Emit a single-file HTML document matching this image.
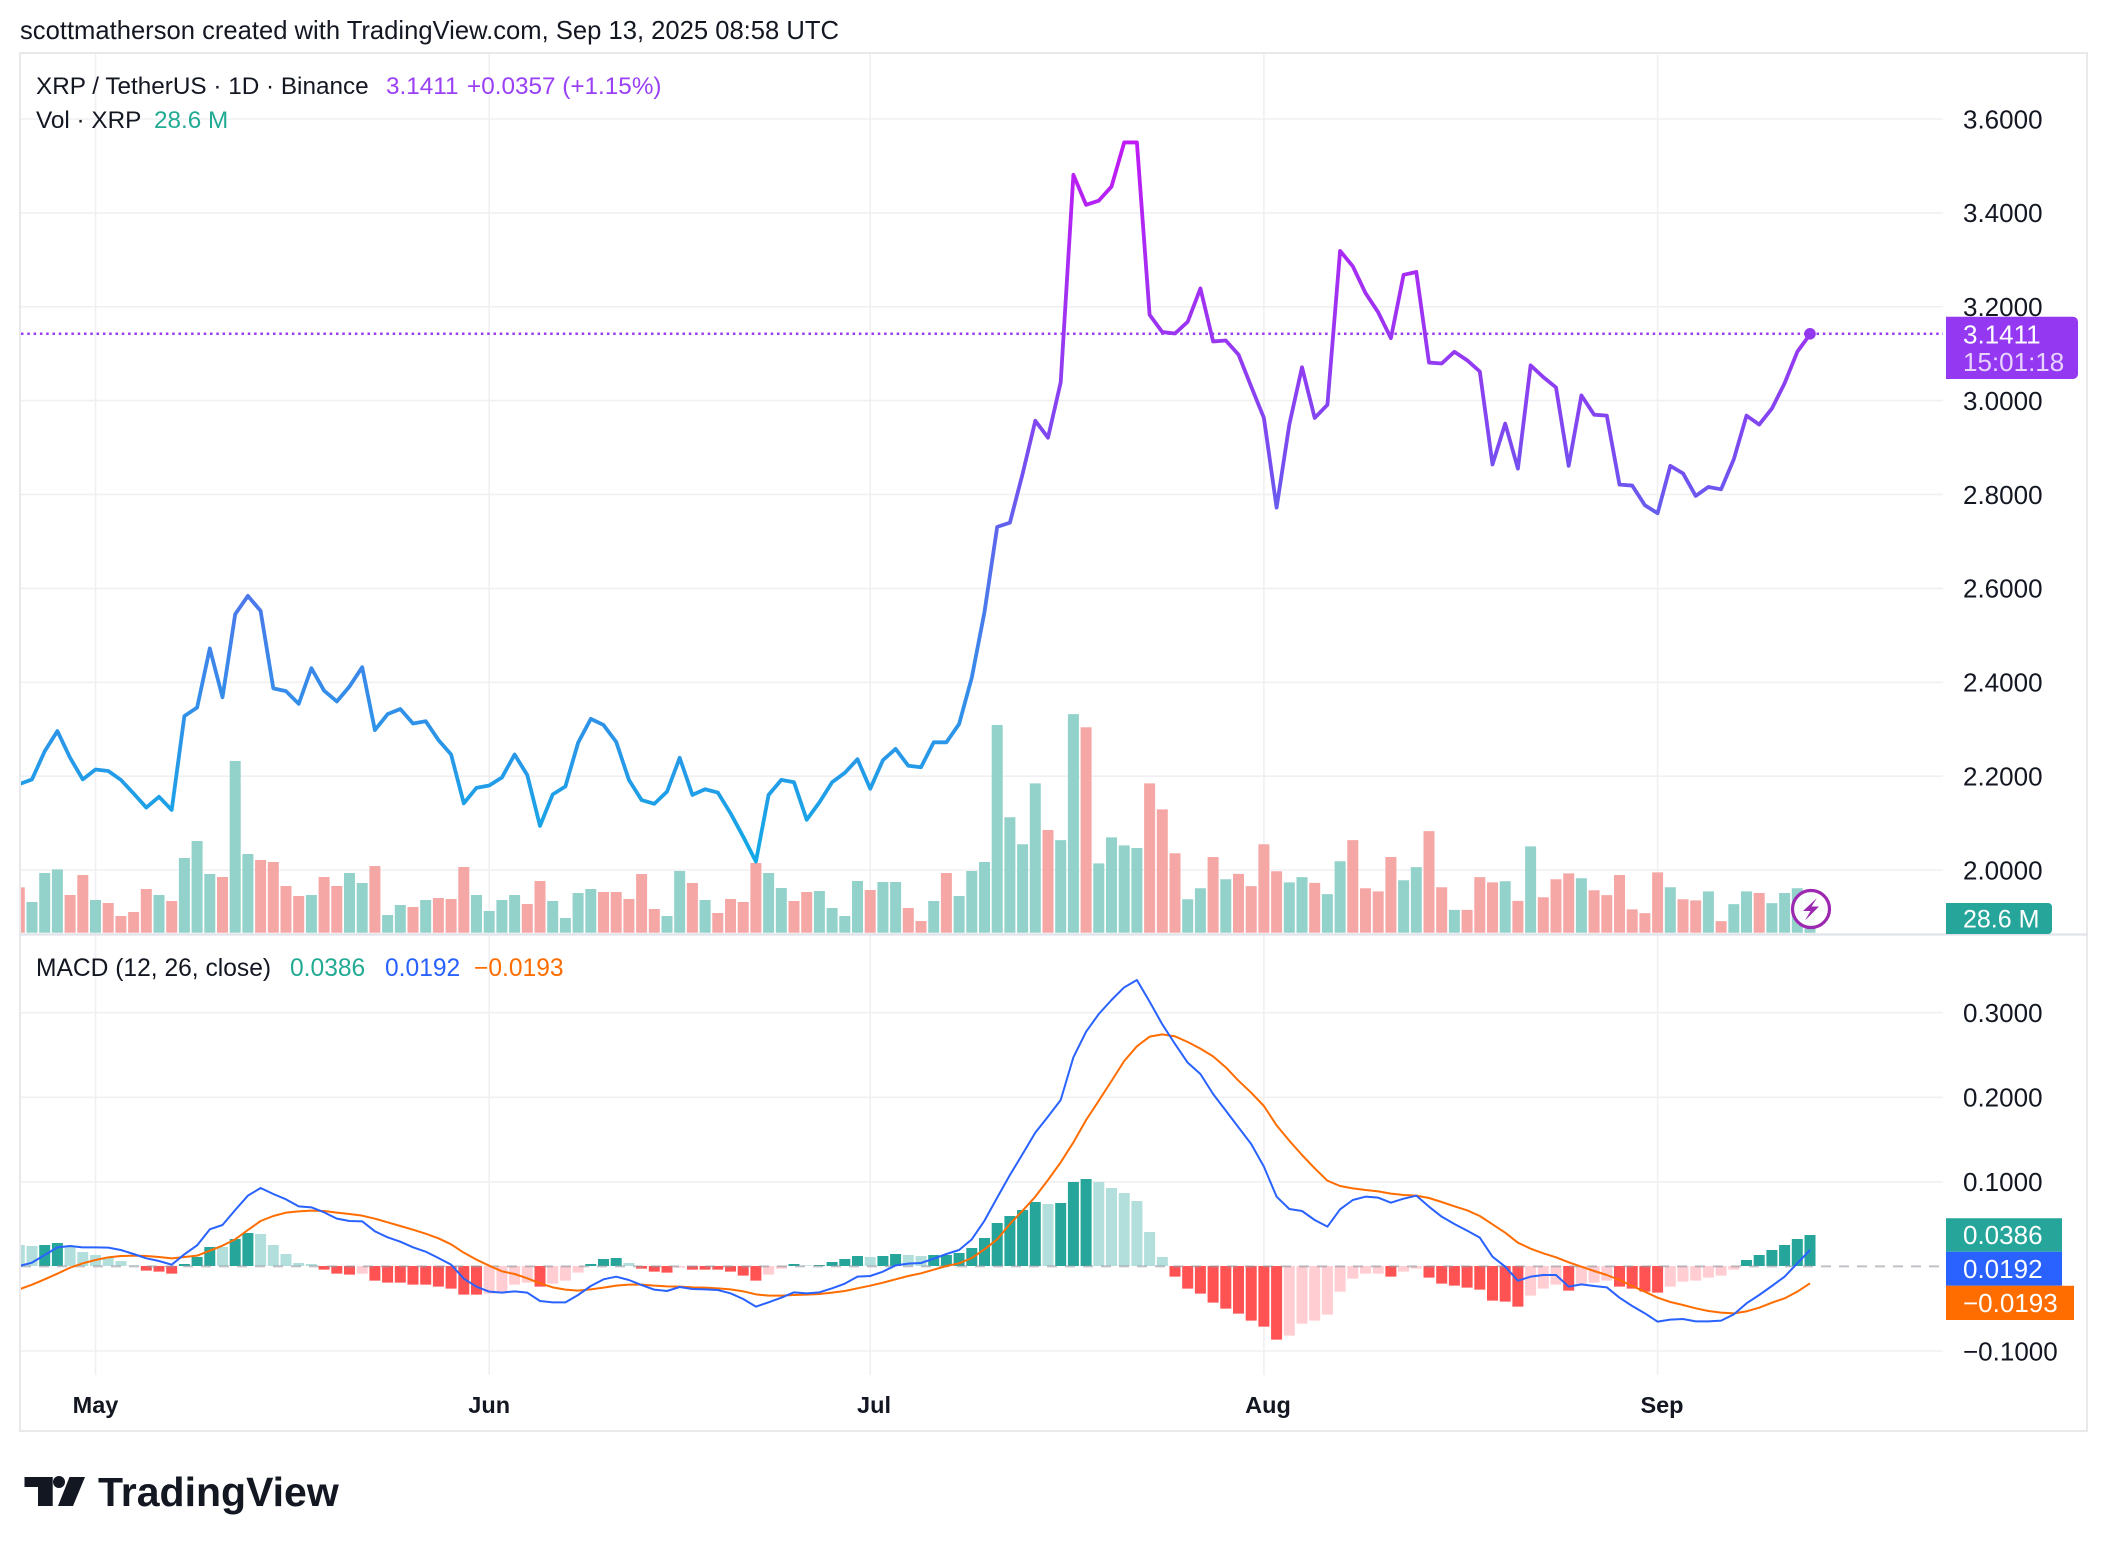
<!DOCTYPE html>
<html>
<head>
<meta charset="utf-8">
<style>
  html,body{margin:0;padding:0;background:#ffffff;}
  svg{display:block;}
  text{font-family:"Liberation Sans",Arial,sans-serif;}
</style>
</head>
<body>
<svg width="2108" height="1552" viewBox="0 0 2108 1552" xmlns="http://www.w3.org/2000/svg">
  <defs>
    <clipPath id="plot"><rect x="21" y="54" width="1922" height="1321"/></clipPath>
    <linearGradient id="pg" gradientUnits="userSpaceOnUse" x1="0" y1="3.55" x2="0" y2="2.0">
      <stop offset="0" stop-color="#c01af5"/>
      <stop offset="0.265" stop-color="#9a36f2"/>
      <stop offset="0.452" stop-color="#7450f0"/>
      <stop offset="0.581" stop-color="#5470ec"/>
      <stop offset="0.71" stop-color="#3d86ea"/>
      <stop offset="0.839" stop-color="#2898e8"/>
      <stop offset="1" stop-color="#10abe6"/>
    </linearGradient>
  </defs>

  <rect x="0" y="0" width="2108" height="1552" fill="#ffffff"/>

  <!-- header -->
  <text x="20" y="39" font-size="25.6" fill="#131722">scottmatherson created with TradingView.com, Sep 13, 2025 08:58 UTC</text>

  <!-- frame -->
  <rect x="20" y="53" width="2067" height="1378" fill="none" stroke="#e9e9ec" stroke-width="2"/>

  <!-- gridlines -->
  <g stroke="#f0f0f3" stroke-width="1.6">
    <line x1="95.5" y1="54" x2="95.5" y2="1375"/>
    <line x1="489.2" y1="54" x2="489.2" y2="1375"/>
    <line x1="870.2" y1="54" x2="870.2" y2="1375"/>
    <line x1="1263.9" y1="54" x2="1263.9" y2="1375"/>
    <line x1="1657.6" y1="54" x2="1657.6" y2="1375"/>
    <line x1="21" y1="119" x2="1943" y2="119"/>
    <line x1="21" y1="212.9" x2="1943" y2="212.9"/>
    <line x1="21" y1="306.8" x2="1943" y2="306.8"/>
    <line x1="21" y1="400.6" x2="1943" y2="400.6"/>
    <line x1="21" y1="494.5" x2="1943" y2="494.5"/>
    <line x1="21" y1="588.4" x2="1943" y2="588.4"/>
    <line x1="21" y1="682.3" x2="1943" y2="682.3"/>
    <line x1="21" y1="776.2" x2="1943" y2="776.2"/>
    <line x1="21" y1="870" x2="1943" y2="870"/>
    <line x1="21" y1="1012.7" x2="1943" y2="1012.7"/>
    <line x1="21" y1="1097.3" x2="1943" y2="1097.3"/>
    <line x1="21" y1="1181.8" x2="1943" y2="1181.8"/>
    <line x1="21" y1="1351" x2="1943" y2="1351"/>
  </g>

  <g clip-path="url(#plot)">
    <!-- volume -->
    <g transform="translate(13.8,932.7) scale(12.7,1)">
      <path fill="#93d2cb" d="M1 0v-30.7h.866V0z M2 0v-59.7h.866V0z M3 0v-63.3h.866V0z M6 0v-32.7h.866V0z M11 0v-37.7h.866V0z M13 0v-74.7h.866V0z M14 0v-91.7h.866V0z M15 0v-58.7h.866V0z M17 0v-171.7h.866V0z M18 0v-78.7h.866V0z M23 0v-37.7h.866V0z M26 0v-59.7h.866V0z M27 0v-49.7h.866V0z M29 0v-17.7h.866V0z M30 0v-27.7h.866V0z M32 0v-32.7h.866V0z M36 0v-37.7h.866V0z M37 0v-21.7h.866V0z M38 0v-32.7h.866V0z M39 0v-37.7h.866V0z M42 0v-31.7h.866V0z M43 0v-14.7h.866V0z M44 0v-39.7h.866V0z M45 0v-43.7h.866V0z M51 0v-16.7h.866V0z M52 0v-61.7h.866V0z M54 0v-32.7h.866V0z M59 0v-59.7h.866V0z M60 0v-44.7h.866V0z M63 0v-41.7h.866V0z M64 0v-24.7h.866V0z M65 0v-16.7h.866V0z M66 0v-51.7h.866V0z M68 0v-50.7h.866V0z M69 0v-50.7h.866V0z M72 0v-31.7h.866V0z M74 0v-36.7h.866V0z M75 0v-61.7h.866V0z M76 0v-70.7h.866V0z M77 0v-207.7h.866V0z M78 0v-115.4h.866V0z M79 0v-88.4h.866V0z M80 0v-149.3h.866V0z M82 0v-92.6h.866V0z M83 0v-218.6h.866V0z M85 0v-69.3h.866V0z M86 0v-95.3h.866V0z M87 0v-87.3h.866V0z M88 0v-84.7h.866V0z M92 0v-33.4h.866V0z M93 0v-44.5h.866V0z M95 0v-53.5h.866V0z M100 0v-50.3h.866V0z M101 0v-55.6h.866V0z M103 0v-38.6h.866V0z M104 0v-71.5h.866V0z M109 0v-52.4h.866V0z M110 0v-65.6h.866V0z M113 0v-22.8h.866V0z M117 0v-51.4h.866V0z M119 0v-86.3h.866V0z M123 0v-54.5h.866V0z M130 0v-45.5h.866V0z M133 0v-41.3h.866V0z M135 0v-28.6h.866V0z M136 0v-41.3h.866V0z M138 0v-29.6h.866V0z M139 0v-39.7h.866V0z M140 0v-44.5h.866V0z M141 0v-40h.866V0z"/>
      <path fill="#f5a7a5" d="M0 0v-45.3h.866V0z M4 0v-37.7h.866V0z M5 0v-57.7h.866V0z M7 0v-29.7h.866V0z M8 0v-16.7h.866V0z M9 0v-20.7h.866V0z M10 0v-43.7h.866V0z M12 0v-31.7h.866V0z M16 0v-55.7h.866V0z M19 0v-72.7h.866V0z M20 0v-70.7h.866V0z M21 0v-46.7h.866V0z M22 0v-36.7h.866V0z M24 0v-55.7h.866V0z M25 0v-46.7h.866V0z M28 0v-66.7h.866V0z M31 0v-25.7h.866V0z M33 0v-34.7h.866V0z M34 0v-33.7h.866V0z M35 0v-65.7h.866V0z M40 0v-28.7h.866V0z M41 0v-51.7h.866V0z M46 0v-40.7h.866V0z M47 0v-40.7h.866V0z M48 0v-33.7h.866V0z M49 0v-58.7h.866V0z M50 0v-23.7h.866V0z M53 0v-49.7h.866V0z M55 0v-19.7h.866V0z M56 0v-33.7h.866V0z M57 0v-30.7h.866V0z M58 0v-69.7h.866V0z M61 0v-31.7h.866V0z M62 0v-40.7h.866V0z M67 0v-42.7h.866V0z M70 0v-24.7h.866V0z M71 0v-11.7h.866V0z M73 0v-59.7h.866V0z M81 0v-102.7h.866V0z M84 0v-205.4h.866V0z M89 0v-149.3h.866V0z M90 0v-123.3h.866V0z M91 0v-79.4h.866V0z M94 0v-75.7h.866V0z M96 0v-58.8h.866V0z M97 0v-46.6h.866V0z M98 0v-88.4h.866V0z M99 0v-61.4h.866V0z M102 0v-49.8h.866V0z M105 0v-92.6h.866V0z M106 0v-44.5h.866V0z M107 0v-41.3h.866V0z M108 0v-75.7h.866V0z M111 0v-101.6h.866V0z M112 0v-45.5h.866V0z M114 0v-22.8h.866V0z M115 0v-55.6h.866V0z M116 0v-50.3h.866V0z M118 0v-31.8h.866V0z M120 0v-35.5h.866V0z M121 0v-53.5h.866V0z M122 0v-59.3h.866V0z M124 0v-42.4h.866V0z M125 0v-37.6h.866V0z M126 0v-57.7h.866V0z M127 0v-23.3h.866V0z M128 0v-19.6h.866V0z M129 0v-60.3h.866V0z M131 0v-33.4h.866V0z M132 0v-32.3h.866V0z M134 0v-11.6h.866V0z M137 0v-39.7h.866V0z"/>
    </g>

    <!-- last price dotted line -->
    <line x1="21" y1="333.8" x2="1943" y2="333.8" stroke="#9a3cf2" stroke-width="2.5" stroke-dasharray="2.5 3.8"/>

    <!-- price line -->
    <g transform="translate(19.3,1808.8) scale(12.7,-469.4)">
      <polyline fill="none" stroke="url(#pg)" stroke-width="3.8" stroke-linejoin="round" stroke-linecap="round" vector-effect="non-scaling-stroke"
        points="0,2.183 1,2.193 2,2.253 3,2.296 4,2.239 5,2.193 6,2.214 7,2.211 8,2.192 9,2.163 10,2.133 11,2.156 12,2.128 13,2.328 14,2.346 15,2.472 16,2.368 17,2.545 18,2.584 19,2.552 20,2.387 21,2.381 22,2.354 23,2.430 24,2.382 25,2.359 26,2.391 27,2.432 28,2.298 29,2.332 30,2.343 31,2.312 32,2.317 33,2.277 34,2.246 35,2.142 36,2.175 37,2.180 38,2.197 39,2.246 40,2.202 41,2.094 42,2.161 43,2.178 44,2.271 45,2.322 46,2.309 47,2.273 48,2.192 49,2.149 50,2.141 51,2.167 52,2.239 53,2.160 54,2.172 55,2.165 56,2.121 57,2.071 58,2.018 59,2.160 60,2.192 61,2.187 62,2.107 63,2.144 64,2.187 65,2.207 66,2.236 67,2.173 68,2.234 69,2.258 70,2.222 71,2.219 72,2.272 73,2.272 74,2.311 75,2.41 76,2.55 77,2.731 78,2.740 79,2.844 80,2.957 81,2.921 82,3.039 83,3.481 84,3.417 85,3.426 86,3.456 87,3.550 88,3.550 89,3.183 90,3.146 91,3.143 92,3.168 93,3.239 94,3.126 95,3.128 96,3.098 97,3.030 98,2.963 99,2.772 100,2.949 101,3.071 102,2.963 103,2.991 104,3.319 105,3.286 106,3.229 107,3.188 108,3.133 109,3.268 110,3.274 111,3.081 112,3.079 113,3.104 114,3.086 115,3.062 116,2.864 117,2.951 118,2.855 119,3.075 120,3.050 121,3.028 122,2.861 123,3.011 124,2.970 125,2.968 126,2.821 127,2.819 128,2.777 129,2.760 130,2.861 131,2.845 132,2.797 133,2.816 134,2.811 135,2.875 136,2.968 137,2.949 138,2.983 139,3.037 140,3.104 141,3.1411"/>
    </g>
    <circle cx="1810" cy="333.8" r="5.8" fill="#9238ee"/>

    <!-- MACD histogram -->
    <g transform="translate(13.8,970) scale(12.7,0.333333)">
      <path fill="#26a69a" d="M2 888V825h.866V888z M3 888V819h.866V888z M13 888V882h.866V888z M14 888V861h.866V888z M15 888V831h.866V888z M17 888V807h.866V888z M18 888V789h.866V888z M45 888V882h.866V888z M46 888V867h.866V888z M47 888V864h.866V888z M61 888V882h.866V888z M63 888V885h.866V888z M64 888V876h.866V888z M65 888V867h.866V888z M66 888V858h.866V888z M68 888V858h.866V888z M69 888V852h.866V888z M72 888V855h.866V888z M73 888V855h.866V888z M74 888V849h.866V888z M75 888V834h.866V888z M76 888V804h.866V888z M77 888V759h.866V888z M78 888V738h.866V888z M79 888V720h.866V888z M80 888V696h.866V888z M82 888V699h.866V888z M83 888V636h.866V888z M84 888V627h.866V888z M136 888V870h.866V888z M137 888V855h.866V888z M138 888V840h.866V888z M139 888V825h.866V888z M140 888V807h.866V888z M141 888V795h.866V888z"/>
      <path fill="#b2dfdb" d="M0 888V825h.866V888z M1 888V828h.866V888z M4 888V828h.866V888z M5 888V846h.866V888z M6 888V855h.866V888z M7 888V864h.866V888z M8 888V873h.866V888z M9 888V886h.866V888z M16 888V831h.866V888z M19 888V792h.866V888z M20 888V825h.866V888z M21 888V852h.866V888z M22 888V879h.866V888z M23 888V882h.866V888z M48 888V879h.866V888z M62 888V886h.866V888z M67 888V861h.866V888z M70 888V855h.866V888z M71 888V858h.866V888z M81 888V702h.866V888z M85 888V636h.866V888z M86 888V654h.866V888z M87 888V669h.866V888z M88 888V693h.866V888z M89 888V786h.866V888z M90 888V861h.866V888z"/>
      <path fill="#ff5252" d="M10 888V902h.866V888z M11 888V905h.866V888z M12 888V911h.866V888z M24 888V899h.866V888z M25 888V911h.866V888z M26 888V914h.866V888z M28 888V932h.866V888z M29 888V938h.866V888z M30 888V938h.866V888z M31 888V944h.866V888z M32 888V944h.866V888z M33 888V950h.866V888z M34 888V956h.866V888z M35 888V974h.866V888z M36 888V974h.866V888z M41 888V950h.866V888z M49 888V896h.866V888z M50 888V905h.866V888z M51 888V908h.866V888z M53 888V899h.866V888z M54 888V899h.866V888z M55 888V899h.866V888z M56 888V905h.866V888z M57 888V917h.866V888z M58 888V932h.866V888z M91 888V920h.866V888z M92 888V956h.866V888z M93 888V971h.866V888z M94 888V998h.866V888z M95 888V1016h.866V888z M96 888V1031h.866V888z M97 888V1052h.866V888z M98 888V1070h.866V888z M99 888V1109h.866V888z M108 888V920h.866V888z M111 888V923h.866V888z M112 888V941h.866V888z M113 888V947h.866V888z M114 888V953h.866V888z M115 888V959h.866V888z M116 888V992h.866V888z M117 888V995h.866V888z M118 888V1010h.866V888z M122 888V962h.866V888z M126 888V950h.866V888z M127 888V956h.866V888z M128 888V965h.866V888z M129 888V968h.866V888z"/>
      <path fill="#ffcdd2" d="M27 888V911h.866V888z M37 888V971h.866V888z M38 888V968h.866V888z M39 888V944h.866V888z M40 888V938h.866V888z M42 888V941h.866V888z M43 888V932h.866V888z M44 888V908h.866V888z M52 888V893h.866V888z M59 888V914h.866V888z M60 888V896h.866V888z M100 888V1097h.866V888z M101 888V1061h.866V888z M102 888V1052h.866V888z M103 888V1034h.866V888z M104 888V965h.866V888z M105 888V926h.866V888z M106 888V911h.866V888z M107 888V911h.866V888z M109 888V905h.866V888z M110 888V896h.866V888z M119 888V977h.866V888z M120 888V956h.866V888z M121 888V944h.866V888z M123 888V941h.866V888z M124 888V938h.866V888z M125 888V932h.866V888z M130 888V950h.866V888z M131 888V935h.866V888z M132 888V932h.866V888z M133 888V923h.866V888z M134 888V917h.866V888z M135 888V899h.866V888z"/>
    </g>

    <!-- zero line -->
    <line x1="21" y1="1266.4" x2="1943" y2="1266.4" stroke="#9598a1" stroke-opacity="0.6" stroke-width="2" stroke-dasharray="10 8"/>

    <!-- MACD & signal lines -->
    <g transform="translate(19.3,970) scale(12.7,0.333333)">
      <polyline fill="none" stroke="#ff6d00" stroke-width="2" stroke-linejoin="round" vector-effect="non-scaling-stroke"
        points="0,958 1,944 2,928 3,911 4,893 5,880 6,870 7,862 8,858 9,857 10,858 11,861 12,865 13,861 14,857 15,842 16,827 17,808 18,780 19,753 20,738 21,728 22,724 23,722 24,723 25,728 26,732 27,737 28,746 29,757 30,768 31,779 32,791 33,805 34,823 35,848 36,869 37,887 38,904 39,912 40,925 41,940 42,952 43,959 44,962 45,958 46,953 47,947 48,944 49,944 50,947 51,949 52,950 53,952 54,953 55,955 56,958 57,964 58,973 59,977 60,977 61,975 62,974 63,972 64,968 65,963 66,955 67,947 68,938 69,928 70,918 71,910 72,899 73,888 74,880 75,864 76,838 77,808 78,762 79,722 80,680 81,630 82,577 83,517 84,450 85,392 86,333 87,273 88,229 89,200 90,193 91,199 92,216 93,236 94,259 95,292 96,332 97,368 98,408 99,466 100,512 101,555 102,595 103,632 104,648 105,655 106,660 107,664 108,671 109,675 110,677 111,684 112,696 113,709 114,721 115,738 116,763 117,788 118,818 119,836 120,850 121,862 122,877 123,890 124,903 125,915 126,930 127,948 128,965 129,983 130,996 131,1005 132,1015 133,1023 134,1028 135,1030 136,1024 137,1013 138,998 139,985 140,965 141,940"/>
      <polyline fill="none" stroke="#2962ff" stroke-width="2" stroke-linejoin="round" vector-effect="non-scaling-stroke"
        points="0,888 1,878 2,855 3,832 4,828 5,832 6,832 7,833 8,840 9,852 10,865 11,873 12,884 13,853 14,826 15,778 16,765 17,720 18,677 19,654 20,672 21,688 22,709 23,712 24,727 25,746 26,753 27,754 28,784 29,802 30,815 31,832 32,845 33,864 34,884 35,926 36,950 37,965 38,968 39,964 40,968 41,993 42,997 43,997 44,975 45,948 46,928 47,920 48,930 49,945 50,959 51,963 52,951 53,957 54,958 55,960 56,970 57,987 58,1010 59,997 60,983 61,967 62,970 63,967 64,955 65,941 66,920 67,918 68,905 69,886 70,881 71,879 72,866 73,852 74,840 75,808 76,752 77,683 78,615 79,552 80,488 81,440 82,390 83,262 84,185 85,132 86,90 87,52 88,30 89,95 90,163 91,222 92,278 93,312 94,372 95,422 96,472 97,522 98,590 99,680 100,717 101,723 102,750 103,770 104,718 105,690 106,680 107,683 108,698 109,686 110,677 111,710 112,740 113,762 114,782 115,803 116,860 117,890 118,932 119,920 120,915 121,915 122,950 123,943 124,948 125,952 126,983 127,1008 128,1030 129,1055 130,1049 131,1047 132,1054 133,1054 134,1052 135,1033 136,1000 137,975 138,948 139,920 140,880 141,840"/>
    </g>
  </g>

  <!-- pane separator -->
  <line x1="20" y1="934.5" x2="2087" y2="934.5" stroke="#e0e3eb" stroke-width="2.2"/>

  <!-- lightning icon -->
  <circle cx="1811" cy="909" r="18.5" fill="#ffffff" fill-opacity="0.92" stroke="#9c27b0" stroke-width="3.2"/>
  <polygon points="1817,898 1803,911 1810.5,911 1805,920.5 1819,906.5 1811.5,906.5" fill="#9c27b0"/>

  <!-- legends -->
  <text y="94" font-size="24.3" fill="#131722"><tspan x="36">XRP / TetherUS · 1D · Binance</tspan><tspan x="386" fill="#9a40f5">3.1411</tspan><tspan x="467" fill="#9a40f5">+0.0357 (+1.15%)</tspan></text>
  <text y="128" font-size="24.3" fill="#131722"><tspan x="36">Vol · XRP</tspan><tspan x="154" fill="#22ab94">28.6 M</tspan></text>
  <text y="976" font-size="24.6" fill="#131722"><tspan x="36">MACD (12, 26, close)</tspan><tspan x="290" fill="#22ab94">0.0386</tspan><tspan x="385" fill="#2962ff">0.0192</tspan><tspan x="474" fill="#ff6d00">−0.0193</tspan></text>

  <!-- price axis labels -->
  <g font-size="26" fill="#131722">
    <text x="1963" y="128.3">3.6000</text>
    <text x="1963" y="222.2">3.4000</text>
    <text x="1963" y="316.1">3.2000</text>
    <text x="1963" y="409.9">3.0000</text>
    <text x="1963" y="503.8">2.8000</text>
    <text x="1963" y="597.7">2.6000</text>
    <text x="1963" y="691.6">2.4000</text>
    <text x="1963" y="785.5">2.2000</text>
    <text x="1963" y="879.3">2.0000</text>
    <text x="1963" y="1022">0.3000</text>
    <text x="1963" y="1106.6">0.2000</text>
    <text x="1963" y="1191.1">0.1000</text>
    <text x="1963" y="1360.3">−0.1000</text>
  </g>

  <!-- price label box -->
  <path d="M1946 316.7H2073a5 5 0 0 1 5 5V374a5 5 0 0 1 -5 5H1946z" fill="#9438f2"/>
  <text x="1963" y="343.5" font-size="26" fill="#ffffff">3.1411</text>
  <text x="1963" y="371" font-size="26" fill="#ffffff" fill-opacity="0.78">15:01:18</text>

  <!-- volume label box -->
  <path d="M1946 903H2048a4 4 0 0 1 4 4V930a4 4 0 0 1 -4 4H1946z" fill="#26a69a"/>
  <text x="1963" y="927.5" font-size="25" fill="#ffffff">28.6 M</text>

  <!-- MACD label boxes -->
  <path d="M1946 1218.3H2062V1251.7H1946z" fill="#26a69a"/>
  <text x="1963" y="1244" font-size="26" fill="#ffffff">0.0386</text>
  <path d="M1946 1251.7H2062V1285.7H1946z" fill="#2962ff"/>
  <text x="1963" y="1278" font-size="26" fill="#ffffff">0.0192</text>
  <path d="M1946 1285.7H2074V1320H1946z" fill="#ff6d00"/>
  <text x="1963" y="1312" font-size="26" fill="#ffffff">−0.0193</text>

  <!-- time axis -->
  <g font-size="23.5" font-weight="700" fill="#131722" text-anchor="middle">
    <text x="95.5" y="1413">May</text>
    <text x="489.2" y="1413">Jun</text>
    <text x="874" y="1413">Jul</text>
    <text x="1268" y="1413">Aug</text>
    <text x="1662" y="1413">Sep</text>
  </g>

  <!-- TradingView logo -->
  <g fill="#131722">
    <path d="M24.5 1477H52.7V1506H38V1487H24.5z"/>
    <circle cx="59" cy="1482" r="6"/>
    <polygon points="58,1506 73,1506 85,1477 69.5,1477"/>
  </g>
  <text x="98" y="1506" font-size="41" font-weight="700" fill="#131722">TradingView</text>
</svg>
</body>
</html>
